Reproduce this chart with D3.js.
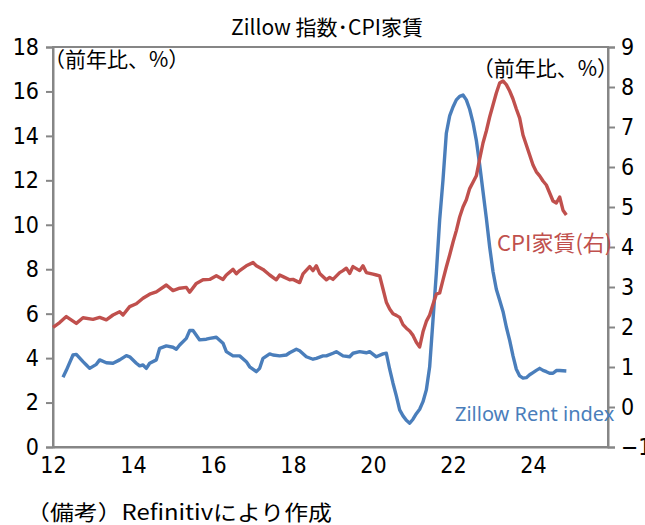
<!DOCTYPE html>
<html>
<head>
<meta charset="utf-8">
<script src="https://cdn.jsdelivr.net/npm/d3@7"></script>
<style>
  body { margin: 0; background: #fff; }
  .num { font-family: "DejaVu Sans", sans-serif; font-stretch: condensed; font-size: 23px; fill: #000; }
  .jp { font-family: "Noto Sans CJK JP", sans-serif; }
</style>
</head>
<body>
<div id="chart"></div>
<script>
// CPI rent (right axis), y/y %
var cpiDates = ["2012-01","2012-03","2012-05","2012-08","2012-10","2013-01","2013-03","2013-05","2013-07","2013-09",
  "2013-10","2013-12","2014-02","2014-04","2014-06","2014-08","2014-11","2015-01","2015-03","2015-05",
  "2015-06","2015-08","2015-10","2015-12","2016-02","2016-04","2016-05","2016-07","2016-08","2016-09",
  "2016-11","2017-01","2017-02","2017-04","2017-06","2017-08","2017-09","2017-10","2017-12","2018-01",
  "2018-03","2018-04","2018-06","2018-07","2018-08","2018-09","2018-11","2018-12","2019-01","2019-03",
  "2019-04","2019-05","2019-06","2019-07","2019-09","2019-10","2019-11","2020-01","2020-02","2020-03",
  "2020-04","2020-05","2020-06","2020-07","2020-08","2020-09","2020-10","2020-11","2020-12","2021-01",
  "2021-02","2021-03","2021-04","2021-05","2021-06","2021-07","2021-08","2021-09","2021-10","2021-11",
  "2021-12","2022-01","2022-02","2022-03","2022-04","2022-05","2022-06","2022-07","2022-08","2022-09",
  "2022-10","2022-11","2022-12","2023-01","2023-02","2023-03","2023-04","2023-05","2023-06","2023-07",
  "2023-08","2023-09","2023-10","2023-11","2023-12","2024-01","2024-02","2024-03","2024-04","2024-05",
  "2024-06","2024-07","2024-08","2024-09","2024-10","2024-11"]
var cpiValues = [1.99,2.11,2.26,2.09,2.23,2.19,2.24,2.18,2.30,2.38,
  2.30,2.51,2.58,2.72,2.82,2.88,3.05,2.91,2.97,2.99,
  2.87,3.09,3.18,3.19,3.28,3.19,3.30,3.44,3.33,3.41,
  3.53,3.61,3.53,3.44,3.30,3.18,3.30,3.26,3.18,3.19,
  3.11,3.33,3.51,3.41,3.53,3.34,3.18,3.24,3.19,3.36,
  3.41,3.47,3.34,3.51,3.41,3.53,3.36,3.32,3.30,3.28,
  2.95,2.62,2.45,2.33,2.29,2.24,2.06,1.97,1.90,1.79,
  1.62,1.50,1.88,2.14,2.30,2.57,2.82,2.85,3.18,3.50,
  3.80,4.12,4.41,4.75,5.00,5.18,5.46,5.62,5.78,6.20,
  6.60,6.90,7.25,7.55,7.85,8.10,8.15,8.06,7.90,7.70,
  7.45,7.22,6.80,6.55,6.30,6.05,5.88,5.78,5.65,5.55,
  5.35,5.15,5.10,5.25,4.92,4.80]

// Zillow rent index (left axis), y/y %
var zillowDates = ["2012-04","2012-05","2012-06","2012-07","2012-08","2012-10","2012-11","2012-12","2013-02","2013-03",
  "2013-05","2013-07","2013-09","2013-11","2013-12","2014-02","2014-03","2014-04","2014-05","2014-06",
  "2014-08","2014-09","2014-11","2015-01","2015-02","2015-03","2015-05","2015-06","2015-07","2015-09",
  "2015-11","2015-12","2016-02","2016-04","2016-05","2016-07","2016-09","2016-11","2016-12","2017-02",
  "2017-03","2017-04","2017-06","2017-07","2017-09","2017-11","2017-12","2018-02","2018-03","2018-05",
  "2018-07","2018-08","2018-10","2018-11","2019-01","2019-02","2019-04","2019-06","2019-07","2019-09",
  "2019-11","2019-12","2020-02","2020-04","2020-05","2020-06","2020-07","2020-08","2020-09","2020-10",
  "2020-11","2020-12","2021-01","2021-02","2021-03","2021-04","2021-05","2021-06","2021-07","2021-08",
  "2021-09","2021-10","2021-11","2021-12","2022-01","2022-02","2022-03","2022-04","2022-05","2022-06",
  "2022-07","2022-08","2022-09","2022-10","2022-11","2022-12","2023-01","2023-02","2023-03","2023-04",
  "2023-05","2023-06","2023-07","2023-08","2023-09","2023-10","2023-11","2023-12","2024-01","2024-02",
  "2024-03","2024-04","2024-05","2024-06","2024-07","2024-08","2024-09","2024-10","2024-11"]
var zillowValues = [3.14,3.45,3.80,4.14,4.17,3.84,3.69,3.54,3.72,3.92,
  3.79,3.77,3.92,4.11,4.06,3.77,3.65,3.69,3.54,3.77,
  3.92,4.44,4.55,4.49,4.40,4.59,4.89,5.24,5.24,4.82,
  4.85,4.89,4.94,4.67,4.29,4.10,4.10,3.84,3.61,3.39,
  3.54,3.99,4.19,4.14,4.10,4.14,4.24,4.40,4.33,4.06,
  3.95,3.99,4.10,4.10,4.22,4.29,4.10,4.06,4.22,4.29,
  4.24,4.29,4.06,4.19,4.22,3.50,2.87,2.30,1.67,1.40,
  1.20,1.07,1.25,1.50,1.70,2.04,2.57,3.61,5.72,7.82,
  10.22,12.02,14.12,14.90,15.30,15.62,15.78,15.84,15.62,15.20,
  14.60,13.80,12.70,11.50,10.30,9.00,7.90,7.10,6.60,6.10,
  5.40,4.80,4.10,3.50,3.20,3.10,3.12,3.25,3.35,3.45,
  3.54,3.45,3.39,3.32,3.32,3.44,3.44,3.43,3.42]

var xTicks = [12, 14, 16, 18, 20, 22, 24]
var leftTicks = [0, 2, 4, 6, 8, 10, 12, 14, 16, 18]
var rightTicks = [-1, 0, 1, 2, 3, 4, 5, 6, 7, 8, 9]

var width = 645, height = 525
var plotL = 53, plotR = 608, plotT = 47, plotB = 447

var red = "#c0504d", blue = "#4a7ebb", axisGray = "#868686"

function toYear(s) {
    var p = s.split("-")
    return +p[0] - 2000 + (+p[1] - 1) / 12
}

var x = d3.scaleLinear().domain([12, 25.875]).range([plotL, plotR])
var yL = d3.scaleLinear().domain([0, 18]).range([plotB, plotT])
var yR = d3.scaleLinear().domain([-1, 9]).range([plotB, plotT])

var svg = d3.select("#chart").append("svg")
    .attr("width", width)
    .attr("height", height)

svg.append("rect").attr("width", width).attr("height", height).attr("fill", "#fff")

// plot frame
svg.append("rect")
    .attr("x", plotL).attr("y", plotT)
    .attr("width", plotR - plotL).attr("height", plotB - plotT)
    .attr("fill", "none").attr("stroke", axisGray).attr("stroke-width", 2)

var axL = svg.append("g").attr("transform", "translate(" + plotL + ",0)")
    .call(d3.axisLeft(yL).tickValues(leftTicks).tickSize(7).tickPadding(7).tickFormat(d3.format("d")))
var axR = svg.append("g").attr("transform", "translate(" + plotR + ",0)")
    .call(d3.axisRight(yR).tickValues(rightTicks).tickSize(7).tickPadding(6).tickFormat(d => d < 0 ? "\u2212" + (-d) : d))
var axB = svg.append("g").attr("transform", "translate(0," + plotB + ")")
    .call(d3.axisBottom(x).tickValues(xTicks).tickSize(0).tickPadding(10).tickFormat(d3.format("d")))

;[axL, axR, axB].forEach(function(g) {
    g.attr("font-size", null).attr("font-family", null)
    g.select(".domain").attr("stroke", axisGray).attr("stroke-width", 2)
    g.selectAll(".tick line").attr("stroke", axisGray).attr("stroke-width", 2)
    g.selectAll("text").attr("class", "num").attr("fill", "#000")
})

var line = d3.line()
    .x(d => x(d[0]))

var cpiData = cpiDates.map((d, i) => [toYear(d), cpiValues[i]])
var zilData = zillowDates.map((d, i) => [toYear(d), zillowValues[i]])

svg.append("path")
    .datum(zilData)
    .attr("d", line.y(d => yL(d[1])))
    .attr("fill", "none").attr("stroke", blue).attr("stroke-width", 3.4)
    .attr("stroke-linejoin", "round")

svg.append("path")
    .datum(cpiData)
    .attr("d", line.y(d => yR(d[1])))
    .attr("fill", "none").attr("stroke", red).attr("stroke-width", 3.4)
    .attr("stroke-linejoin", "round")

// texts
svg.append("text").attr("class", "jp")
    .attr("x", 327).attr("y", 35).attr("text-anchor", "middle")
    .style("font-size", "21px").text("Zillow 指数･CPI家賃")

svg.append("text").attr("class", "jp")
    .attr("x", 44).attr("y", 67)
    .style("font-size", "21px").text("（前年比、%）")

svg.append("text").attr("class", "jp")
    .attr("x", 618).attr("y", 76).attr("text-anchor", "end")
    .style("font-size", "21px").text("（前年比、%）")

svg.append("text").attr("class", "jp")
    .attr("x", 497).attr("y", 251)
    .style("font-size", "22px").attr("fill", red).text("CPI家賃(右)")

svg.append("text")
    .attr("x", 455).attr("y", 421)
    .style("font-family", "Noto Sans, sans-serif")
    .style("font-size", "20px").attr("fill", blue).text("Zillow Rent index")

svg.append("text").attr("class", "jp")
    .attr("x", 26).attr("y", 520)
    .attr("textLength", 306).attr("lengthAdjust", "spacingAndGlyphs")
    .style("font-size", "21px").text("（備考）Refinitivにより作成")
</script>
</body>
</html>
